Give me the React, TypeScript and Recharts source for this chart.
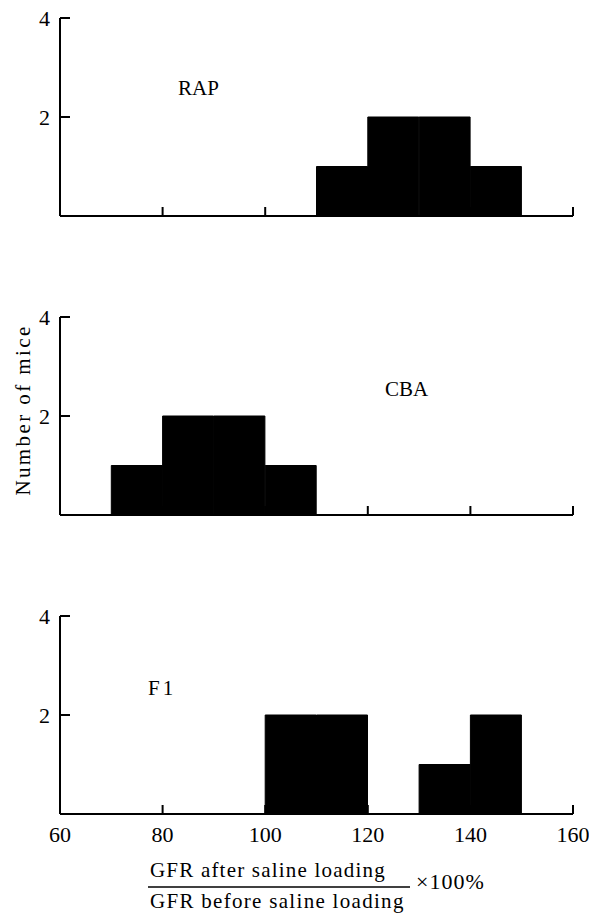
import { ComposedChart, Bar, XAxis, YAxis } from 'recharts'

// histogram bins, 10 units wide, labelled by their lower edge
const BIN_STARTS = [60, 70, 80, 90, 100, 110, 120, 130, 140, 150]
const RAP_COUNTS = [0, 0, 0, 0, 0, 1, 2, 2, 1, 0]
const CBA_COUNTS = [0, 1, 2, 2, 1, 0, 0, 0, 0, 0]
const F1_COUNTS = [0, 0, 0, 0, 2, 2, 0, 1, 2, 0]

const X_TICKS = [60, 80, 100, 120, 140, 160]
const Y_TICKS = [2, 4]

const SERIF = '"Liberation Serif", "Times New Roman", serif'
const INK = '#000'

function yTick(props: any) {
  const { x, y, payload } = props
  return (
    <g>
      <line x1={x + 10} x2={x + 20} y1={y} y2={y} stroke={INK} strokeWidth={2} />
      <text x={x} y={y} dy="0.36em" textAnchor="end" fontFamily={SERIF} fontSize={22} fill={INK}>
        {payload.value}
      </text>
    </g>
  )
}

function makeXTick(showLabel: boolean) {
  return (props: any) => {
    const { x, y, payload } = props
    return (
      <g>
        {payload.value !== 60 && (
          <line x1={x} x2={x} y1={y - 12} y2={y - 21} stroke={INK} strokeWidth={2} />
        )}
        {showLabel && (
          <text x={x} y={y} dy="0.71em" textAnchor="middle" fontFamily={SERIF} fontSize={22} fill={INK}>
            {payload.value}
          </text>
        )}
      </g>
    )
  }
}

interface PanelProps {
  counts: number[]
  top: number
  showLabels: boolean
}

function Panel({ counts, top, showLabels }: PanelProps) {
  // bars sit at the bin centre on the numeric axis
  const data = BIN_STARTS.map((b, i) => ({ mid: b + 5, count: counts[i] }))
  const xHeight = showLabels ? 44 : 24
  return (
    <div style={{ position: 'absolute', left: 0, top }}>
      <ComposedChart
        width={589}
        height={216 + xHeight}
        data={data}
        margin={{ top: 18, right: 16, bottom: 0, left: 0 }}
        barCategoryGap={0}
        barGap={0}
      >
        <XAxis
          dataKey="mid"
          type="number"
          domain={[60, 160]}
          ticks={X_TICKS}
          interval={0}
          height={xHeight}
          tickSize={0}
          tickMargin={12}
          tickLine={false}
          axisLine={{ stroke: INK, strokeWidth: 2 }}
          tick={makeXTick(showLabels)}
        />
        <YAxis
          domain={[0, 4]}
          ticks={Y_TICKS}
          interval={0}
          width={60}
          tickSize={0}
          tickMargin={10}
          tickLine={false}
          axisLine={{ stroke: INK, strokeWidth: 2 }}
          tick={yTick}
        />
        <Bar dataKey="count" fill={INK} stroke={INK} strokeWidth={1} isAnimationActive={false} />
      </ComposedChart>
    </div>
  )
}

export default function App() {
  const textStyle = { fontFamily: SERIF, fontSize: 21, fill: INK }
  return (
    <div style={{ position: 'absolute', left: 0, top: 0, width: 589, height: 913, background: '#fff' }}>
      <Panel counts={RAP_COUNTS} top={0} showLabels={false} />
      <Panel counts={CBA_COUNTS} top={299} showLabels={false} />
      <Panel counts={F1_COUNTS} top={598} showLabels={true} />
      <svg width={589} height={913} style={{ position: 'absolute', left: 0, top: 0, pointerEvents: 'none' }}>
        <text x={178} y={95} {...textStyle}>RAP</text>
        <text x={385} y={396} {...textStyle}>CBA</text>
        <text x={148} y={695} {...textStyle} letterSpacing={3}>F1</text>
        <text transform="translate(30,410) rotate(-90)" textAnchor="middle" {...textStyle} letterSpacing={2.4}>
          Number of mice
        </text>
        <text x={150} y={877} {...textStyle} letterSpacing={1.2}>GFR after saline loading</text>
        <line x1={148} x2={410} y1={887} y2={887} stroke={INK} strokeWidth={1.5} />
        <text x={150} y={908} {...textStyle} letterSpacing={1.3}>GFR before saline loading</text>
        <text x={416} y={889} {...textStyle} fontSize={22} letterSpacing={1}>×100%</text>
      </svg>
    </div>
  )
}
